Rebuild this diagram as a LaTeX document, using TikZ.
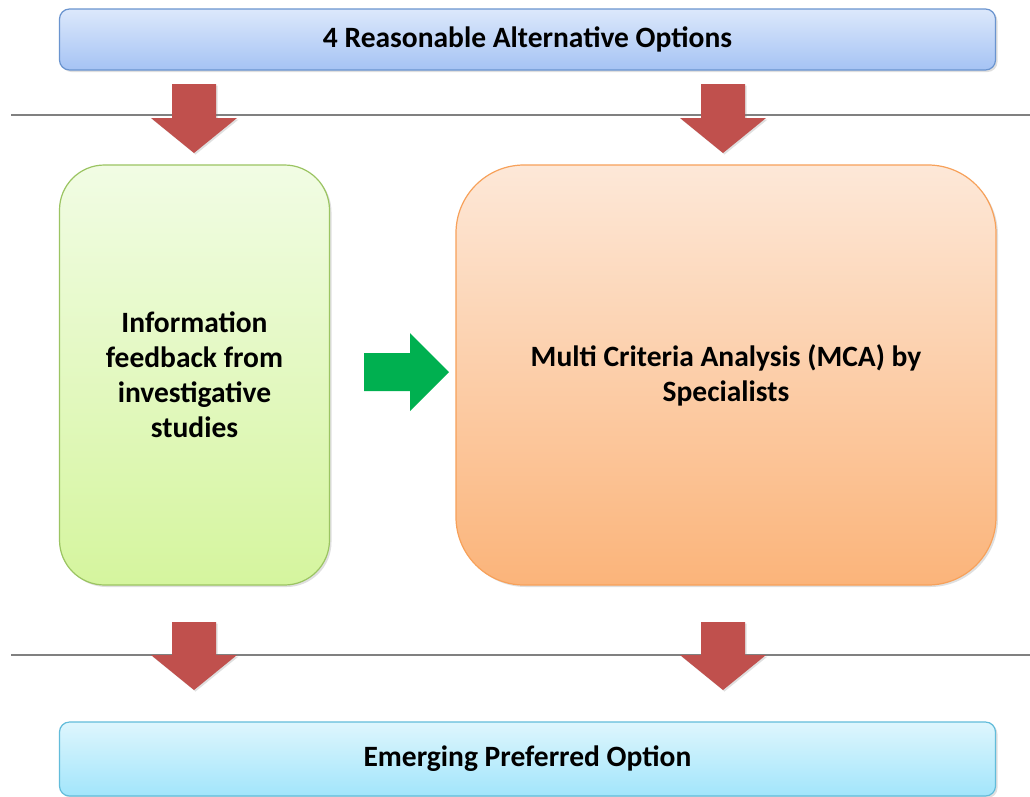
\documentclass[tikz,border=0pt]{standalone}
\usepackage{fontspec}
\setmainfont{Carlito}
\usetikzlibrary{shadows}
\definecolor{redarrow}{HTML}{C0504D}
\definecolor{greenarrow}{HTML}{00B050}
\definecolor{linegray}{HTML}{808080}
\definecolor{blueline}{HTML}{6A94CF}
\definecolor{bluetop}{HTML}{DCE8FB}
\definecolor{bluebot}{HTML}{A5C3F4}
\definecolor{cyanline}{HTML}{62BCDA}
\definecolor{cyantop}{HTML}{DEF6FD}
\definecolor{cyanbot}{HTML}{A2E5FB}
\definecolor{greenline}{HTML}{9BC462}
\definecolor{greentop}{HTML}{F1FCE4}
\definecolor{greenbot}{HTML}{D5F59E}
\definecolor{orangeline}{HTML}{F7A15A}
\definecolor{orangetop}{HTML}{FDE8D8}
\definecolor{orangebot}{HTML}{FBB47A}
\tikzset{
  box/.style={draw, line width=1.2pt, align=center, font=\bfseries\fontsize{29.5}{35}\selectfont,
    inner sep=0pt, drop shadow={shadow xshift=2pt, shadow yshift=-2pt, opacity=0.25}},
  bluebox/.style={box, draw=blueline, top color=bluetop, bottom color=bluebot, rounded corners=10pt},
  cyanbox/.style={box, draw=cyanline, top color=cyantop, bottom color=cyanbot, rounded corners=10pt},
  greenbox/.style={box, draw=greenline, top color=greentop, bottom color=greenbot, rounded corners=45pt},
  orangebox/.style={box, draw=orangeline, top color=orangetop, bottom color=orangebot, rounded corners=68pt},
  downarrow/.style={fill=redarrow, drop shadow={shadow xshift=1.5pt, shadow yshift=-1.5pt, opacity=0.25}},
  sepline/.style={draw=linegray, line width=2pt},
}
\begin{document}
\begin{tikzpicture}[x=1pt,y=-1pt]
\useasboundingbox (0,0) rectangle (1030,796);
\fill[white] (0,0) rectangle (1030,796);
\begin{scope}
\clip (0,0) rectangle (1030,796);
% separator lines
\coordinate (l1a) at (11,115); \coordinate (l1b) at (1030,115);
\coordinate (l2a) at (11,655); \coordinate (l2b) at (1030,655);
\draw[sepline] (l1a) -- (l1b);
\draw[sepline] (l2a) -- (l2b);
% boxes
\node[bluebox, minimum width=936pt, minimum height=61pt] (top) at (527.5,39.5) {4 Reasonable Alternative Options};
\node[greenbox, minimum width=270pt, minimum height=420pt] (info) at (194.5,375) {Information\\feedback from\\investigative\\studies};
\node[orangebox, minimum width=540pt, minimum height=420pt] (mca) at (726,375) {Multi Criteria Analysis (MCA) by\\Specialists};
\node[cyanbox, minimum width=936pt, minimum height=74pt] (pref) at (527.5,759) {Emerging Preferred Option};
% red block arrows
\foreach \cx/\ty/\hy/\tip in {194/84/118/153, 723/84/118/153, 194/622/655/690, 723/622/655/690}{
  \path[downarrow] (\cx-22,\ty) -- (\cx+22,\ty) -- (\cx+22,\hy) -- (\cx+43,\hy) -- (\cx,\tip) -- (\cx-43,\hy) -- (\cx-22,\hy) -- cycle;
}
% green block arrow
\fill[greenarrow] (364,353) -- (410,353) -- (410,333) -- (449,372) -- (410,411) -- (410,391) -- (364,391) -- cycle;
\end{scope}
\end{tikzpicture}
\end{document}
